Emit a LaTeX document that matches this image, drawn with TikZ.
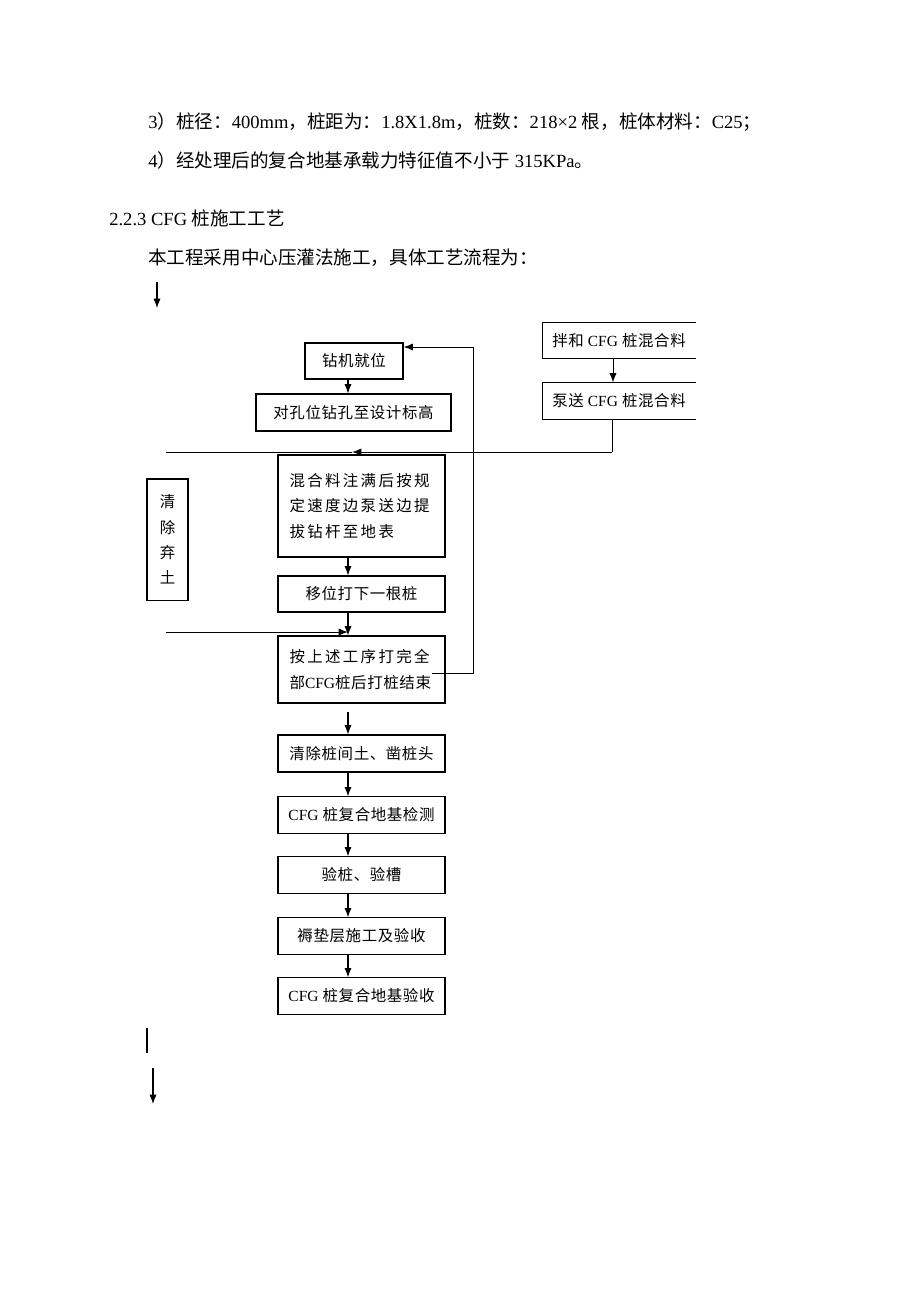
\documentclass[tikz,border=0pt]{standalone}
\usepackage{fontspec}
\setmainfont{Liberation Serif}
\newfontfamily\cjk{Noto Sans CJK SC}
\newfontfamily\cjkbox{Noto Sans CJK SC}[LetterSpace=4]
\newfontfamily\cjkwide{Noto Sans CJK SC}[LetterSpace=15]
\usetikzlibrary{positioning,shapes,arrows,arrows.meta,fit}
\newcommand{\zh}[1]{{\cjk #1}}
\newcommand{\en}[1]{{\rmfamily #1}}

\tikzset{
  bodytext/.style={anchor=base west, inner sep=0pt, font=\fontsize{12}{14}\selectfont},
  stepbox/.style={draw, line width=0.7pt, inner sep=0pt, minimum width=108pt, minimum height=23.5pt,
    font=\cjkbox\fontsize{10}{12}\selectfont},
  widebox/.style={stepbox, align=left, text width=93pt, font=\cjkwide\fontsize{10}{16.5}\selectfont},
  flow/.style={line width=0.65pt, -{Latex[length=6pt,width=4.6pt]}},
  back/.style={line width=0.5pt},
}

\begin{document}
\begin{tikzpicture}[x=0.6467pt, y=-0.6467pt]
\useasboundingbox (0,0) rectangle (920,1302);

% text above the chart
\node[bodytext] (l3) at (148,128) {3\zh{）桩径：}400mm\zh{，桩距为：}1.8X1.8m\zh{，桩数：}218\texttimes2 \zh{根，桩体材料：}C25\zh{；}};
\node[bodytext] (l4) at (148,167) {4\zh{）经处理后的复合地基承载力特征值不小于} 315KPa\zh{。}};
\node[bodytext] (head) at (109,225) {2.2.3 CFG \zh{桩施工工艺}};
\node[bodytext] (intro) at (148,264) {\zh{本工程采用中心压灌法施工，具体工艺流程为：}};
\coordinate (t1) at (157,282);
\coordinate (t2) at (157,308);
\draw[flow] (t1) -- (t2);

% main column
\coordinate (ar) at (348,0);
\node[stepbox, minimum width=63.4pt, minimum height=23.3pt] (zuanji) at (354,361) {钻机就位};
\node[stepbox, minimum width=126.1pt, minimum height=23.9pt] (duikong) at (353.5,412.5) {对孔位钻孔至设计标高};
\node[widebox, minimum height=66pt] (hunhe) at (361.5,506) {混合料注满后按规\\定速度边泵送边提\\拔钻杆至地表\\[-4pt]};
\node[stepbox, minimum height=23.3pt] (yiwei) at (361.5,594) {移位打下一根桩};
\node[widebox, minimum height=43.3pt] (anshang) at (361.5,669.5) {按上述工序打完全\\{\cjkbox 部}\en{CFG}{\cjkbox 桩后打桩结束}};
\node[stepbox, minimum height=23.9pt] (qingjian) at (361.5,753.5) {清除桩间土、凿桩头};
\node[stepbox] (jiance) at (361.5,815) {\en{CFG} 桩复合地基检测};
\node[stepbox] (yancao) at (361.5,875) {验桩、验槽};
\node[stepbox] (rudian) at (361.5,936) {褥垫层施工及验收};
\node[stepbox] (yanshou) at (361.5,996) {\en{CFG} 桩复合地基验收};

% left box
\node[stepbox, minimum width=26.5pt, minimum height=78.3pt, align=center,
  font=\cjk\fontsize{10}{16.3}\selectfont] (qitu) at (167.5,539.5) {清\\除\\弃\\土};

% mixing column
\node[stepbox, draw=none, minimum width=98.3pt, minimum height=22.6pt] (banhe) at (619,340.5) {拌和 \en{CFG} 桩混合料};
\node[stepbox, draw=none, minimum width=98.3pt, minimum height=23.3pt] (bengsong) at (619,401) {泵送 \en{CFG} 桩混合料};
\draw[line width=0.7pt] (banhe.north east) -- (banhe.north west) -- (banhe.south west) -- (banhe.south east);
\draw[line width=0.7pt] (bengsong.north east) -- (bengsong.north west) -- (bengsong.south west) -- (bengsong.south east);

% arrows
\draw[flow] (zuanji.south -| ar) -- (duikong.north -| ar);
\draw[flow] (hunhe.south -| ar) -- (yiwei.north -| ar);
\draw[flow] (yiwei.south -| ar) -- (anshang.north -| ar);
\draw[flow] (qingjian.south -| ar) -- (jiance.north -| ar);
\draw[flow] (jiance.south -| ar) -- (yancao.north -| ar);
\draw[flow] (yancao.south -| ar) -- (rudian.north -| ar);
\draw[flow] (rudian.south -| ar) -- (yanshou.north -| ar);
\draw[flow] (banhe.south -| 613,0) -- (bengsong.north -| 613,0);

% feed line from the pump
\coordinate (p1) at (612,452);
\coordinate (p2) at (352,452);
\coordinate (p3) at (166,452);
\draw[back] (bengsong.south -| p1) -- (p1);
\draw[flow] (p1) -- (p2);
\draw[back] (p2) -- (p3);

% spoil line
\coordinate (s1) at (166,632);
\draw[flow] (s1) -- (s1 -| ar);

% loop back
\coordinate (r1) at (473,673);
\coordinate (r2) at (473,347);
\draw[back] (432,673) -- (r1) -- (r2);
\draw[flow] (r2) -- (r2 -| zuanji.east);

% loose arrow
\coordinate (f1) at (348,712);
\draw[flow] (f1) -- (qingjian.north -| ar);

% marks at the bottom
\draw[line width=1pt] (147,1028) -- (147,1053);
\coordinate (b1) at (153,1068);
\coordinate (b2) at (153,1104);
\draw[flow] (b1) -- (b2);
\end{tikzpicture}
\end{document}
